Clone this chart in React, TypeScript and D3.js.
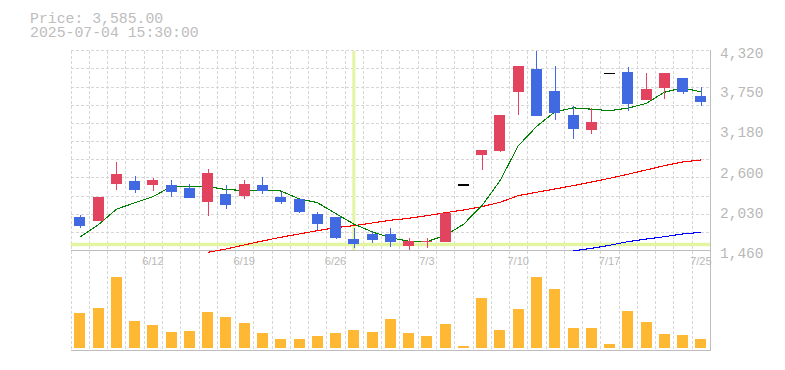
import React, { useEffect, useRef } from 'react';
import * as d3 from 'd3';

const dates = ['6/6', '6/9', '6/10', '6/11', '6/12', '6/13', '6/16', '6/17', '6/18', '6/19', '6/20', '6/23', '6/24', '6/25', '6/26', '6/27', '6/30', '7/1', '7/2', '7/3', '7/4', '7/7', '7/8', '7/9', '7/10', '7/11', '7/14', '7/15', '7/16', '7/17', '7/18', '7/22', '7/23', '7/24', '7/25'];
const opens = [1942, 1885, 2414, 2457, 2400, 2400, 2357, 2156, 2271, 2242, 2400, 2228, 2199, 1985, 1942, 1627, 1699, 1699, 1527, 1590, 1584, 2399, 2829, 2886, 3734, 4058, 3744, 3400, 3186, 3997, 4015, 3615, 3791, 3930, 3677];
const highs = [1970, 2228, 2728, 2528, 2500, 2471, 2414, 2628, 2400, 2471, 2514, 2299, 2199, 2013, 1942, 1785, 1727, 1785, 1642, 1642, 1999, 2399, 2899, 3399, 4099, 4320, 4101, 3529, 3500, 3997, 4087, 4001, 4001, 3930, 3805];
const lows = [1789, 1885, 2332, 2285, 2314, 2228, 2214, 1956, 2056, 2199, 2271, 2128, 1999, 1756, 1627, 1499, 1570, 1513, 1470, 1499, 1584, 2399, 2614, 2871, 3400, 3386, 3329, 3057, 3129, 3997, 3462, 3615, 3634, 3705, 3534];
const closes = [1817, 2228, 2557, 2328, 2471, 2299, 2214, 2571, 2114, 2414, 2314, 2156, 2013, 1842, 1642, 1550, 1613, 1584, 1599, 1599, 1999, 2399, 2899, 3399, 4099, 3386, 3433, 3200, 3300, 3997, 3562, 3772, 4001, 3734, 3585];
const volumes = [350, 400, 710, 270, 230, 160, 170, 360, 310, 250, 150, 90, 90, 120, 150, 180, 160, 290, 150, 120, 240, 20, 500, 180, 390, 710, 590, 200, 200, 40, 370, 260, 140, 130, 90];

// moving averages (null = not drawn)
const ma5 = [1652, 1828, 2052, 2146, 2232, 2377, 2374, 2377, 2334, 2322, 2325, 2314, 2202, 2148, 1993, 1841, 1730, 1645, 1596, 1589, 1679, 1836, 2099, 2459, 2959, 3236, 3443, 3503, 3484, 3463, 3498, 3566, 3726, 3790, 3731];
const ma25 = [null, null, null, null, null, null, null, 1437, 1484, 1542, 1599, 1652, 1699, 1746, 1789, 1818, 1856, 1895, 1923, 1961, 2003, 2042, 2089, 2152, 2247, 2295, 2342, 2390, 2442, 2495, 2553, 2614, 2676, 2728, 2757];
const ma75 = [null, null, null, null, null, null, null, null, null, null, null, null, null, null, null, null, null, null, null, null, null, null, null, null, null, null, null, 1456, 1494, 1537, 1589, 1627, 1660, 1699, 1723];

const dateLabels = ['6/12', '6/19', '6/26', '7/3', '7/10', '7/17', '7/25'];
const priceTicks = [1460, 2030, 2600, 3180, 3750, 4320];
const cursorIndex = 15;

const UP = '#e2435f';
const DOWN = '#4169e1';

const App = () => {
  const ref = useRef<SVGSVGElement>(null);

  useEffect(() => {
    const svg = d3.select(ref.current);
    svg.selectAll('*').remove();

    const left = 70.7, right = 710, top = 50.7, priceBottom = 250.7;
    const volBottom = 350, volBase = 348;

    const x = d3.scaleBand().domain(dates).range([left, right]).padding(0);
    const bw = x.bandwidth();
    const cx = (d: string) => (x(d) as number) + bw / 2;
    const y = d3.scaleLinear().domain([1460, 4320]).range([priceBottom, top]);
    const yv = d3.scaleLinear().domain([0, 800]).range([volBase, volBase - 80]);

    const grid = svg.append('g')
      .attr('stroke', '#d6d6d6')
      .attr('stroke-dasharray', '3,2')
      .attr('stroke-width', 1)
      .attr('shape-rendering', 'crispEdges');
    // horizontal grid, 11 rows
    d3.range(0, 11).forEach(k => {
      const yy = y(1460 + k * 260);
      grid.append('line').attr('x1', left).attr('x2', right).attr('y1', yy).attr('y2', yy);
    });
    grid.append('line').attr('x1', left).attr('x2', right).attr('y1', top).attr('y2', top);
    // vertical grid at band edges
    dates.forEach(d => {
      const xx = Math.round(x(d) as number) + 0.5;
      grid.append('line').attr('x1', xx).attr('x2', xx).attr('y1', top).attr('y2', volBottom);
    });

    // crosshair
    svg.append('rect')
      .attr('x', cx(dates[cursorIndex]) - 1.5).attr('y', top)
      .attr('width', 3).attr('height', priceBottom - top)
      .attr('fill', '#e3f5a3');
    svg.append('rect')
      .attr('x', left).attr('y', y(closes[cursorIndex]) - 1.7)
      .attr('width', right - left).attr('height', 3.5)
      .attr('fill', '#e3f5a3');

    // axes frame
    const frame = svg.append('g').attr('stroke', '#bdbdbd').attr('shape-rendering', 'crispEdges');
    frame.append('line').attr('x1', left).attr('x2', right + 0.5)
      .attr('y1', priceBottom).attr('y2', priceBottom);
    frame.append('line').attr('x1', left).attr('x2', right + 0.5)
      .attr('y1', volBottom).attr('y2', volBottom);
    frame.append('line').attr('x1', right + 0.5).attr('x2', right + 0.5)
      .attr('y1', top - 0.5).attr('y2', volBottom);

    // moving averages
    const maLine = (vals: (number | null)[], color: string) => {
      const line = d3.line<number | null>()
        .defined(v => v !== null)
        .x((_, i) => cx(dates[i]))
        .y(v => y(v as number));
      svg.append('path').datum(vals)
        .attr('d', line)
        .attr('fill', 'none')
        .attr('stroke', color)
        .attr('stroke-width', 1.1)
        .attr('shape-rendering', 'crispEdges');
    };
    maLine(ma75, '#0000ff');
    maLine(ma25, '#ff0000');
    maLine(ma5, '#008000');

    // candles
    const candles = svg.append('g').attr('shape-rendering', 'crispEdges');
    dates.forEach((d, i) => {
      const o = opens[i], h = highs[i], l = lows[i], c = closes[i];
      const xc = cx(d);
      if (o === c && h === l) {
        candles.append('line')
          .attr('x1', xc - 5.5).attr('x2', xc + 5.5)
          .attr('y1', y(c)).attr('y2', y(c))
          .attr('stroke', '#000').attr('stroke-width', 1.3);
        return;
      }
      const col = c >= o ? UP : DOWN;
      candles.append('line')
        .attr('x1', Math.round(xc) + 0.5).attr('x2', Math.round(xc) + 0.5)
        .attr('y1', y(h)).attr('y2', y(l))
        .attr('stroke', col);
      const bt = y(Math.max(o, c)), bb = y(Math.min(o, c));
      candles.append('rect')
        .attr('x', xc - 5.5).attr('y', bt)
        .attr('width', 11).attr('height', Math.max(1, bb - bt))
        .attr('fill', col);
    });

    // volume
    svg.append('g').attr('shape-rendering', 'crispEdges')
      .selectAll('rect').data(volumes).join('rect')
      .attr('x', (_, i) => cx(dates[i]) - 5.5)
      .attr('y', v => yv(v))
      .attr('width', 11)
      .attr('height', v => volBase - yv(v))
      .attr('fill', '#ffb833');

    // price labels
    svg.append('g').selectAll('text').data(priceTicks).join('text')
      .attr('x', 720)
      .attr('y', v => y(v) + 6.8)
      .attr('fill', '#b8b8b8')
      .attr('font-family', 'Liberation Mono, monospace')
      .attr('font-size', 14.5)
      .text(v => d3.format(',')(v));

    // date labels
    svg.append('g').selectAll('text').data(dateLabels).join('text')
      .attr('x', d => cx(d))
      .attr('y', 265)
      .attr('text-anchor', 'middle')
      .attr('fill', '#b8b8b8')
      .attr('font-family', 'Liberation Sans, sans-serif')
      .attr('font-size', 11)
      .text(d => d);

    // header
    const header = svg.append('g')
      .attr('fill', '#bdbdbd')
      .attr('font-family', 'Liberation Mono, monospace')
      .attr('font-size', 14.8);
    header.append('text').attr('x', 30).attr('y', 22.7).text('Price: 3,585.00');
    header.append('text').attr('x', 30).attr('y', 37.3).text('2025-07-04 15:30:00');
  }, []);

  return (
    <svg ref={ref} width={785} height={370}
      style={{ position: 'absolute', left: 0, top: 0, background: '#fff' }} />
  );
};

export default App;
